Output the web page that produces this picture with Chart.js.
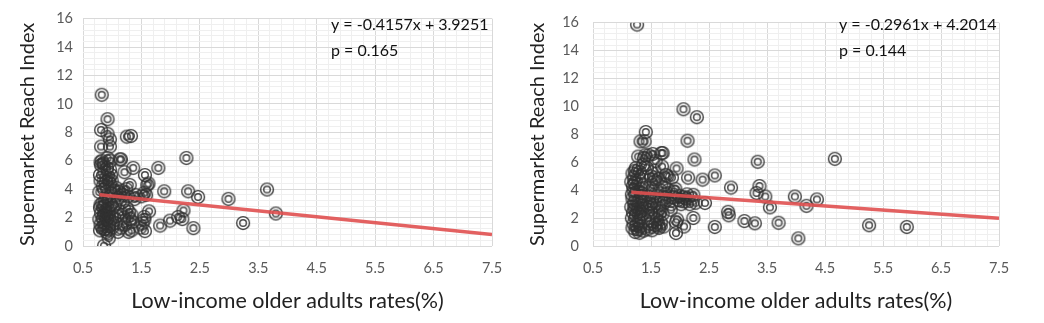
<!DOCTYPE html>
<html>
<head>
<meta charset="utf-8">
<script src="https://cdn.jsdelivr.net/npm/chart.js@4/dist/chart.umd.min.js"></script>
<style>
  html, body { margin: 0; padding: 0; background: #fff; }
  .panel { position: absolute; top: 0; height: 323px; }
  #leftBox { left: 0; width: 520px; }
  #rightBox { left: 510px; width: 534px; }
</style>
</head>
<body>
<div class="panel" id="leftBox"><canvas id="leftChart" width="520" height="323"></canvas></div>
<div class="panel" id="rightBox"><canvas id="rightChart" width="534" height="323"></canvas></div>
<script>
// left panel: low-income older adult rate vs supermarket reach index
const leftX = [
  0.79, 0.80, 0.78, 0.81, 0.79, 0.80, 0.78, 0.80, 0.79, 0.81, 0.80, 0.82, 0.81, 0.81, 0.82, 0.83, 0.84, 0.83, 0.85, 0.84,
  0.86, 0.87, 0.88, 0.86, 0.89, 0.87, 0.88, 0.90, 0.86, 0.89, 0.90, 0.87, 0.91, 0.92, 0.92, 0.92, 0.90, 0.91, 0.89, 0.93,
  0.94, 0.93, 0.95, 0.96, 0.94, 0.97, 0.95, 0.98, 0.96, 0.95, 0.98, 0.96, 0.97, 0.96, 0.96, 0.99, 1.00, 1.01, 1.02, 1.00,
  1.06, 1.08, 1.05, 1.10, 1.12, 1.07, 1.15, 1.13, 1.15, 1.14, 1.18, 1.16, 1.20, 1.21, 1.19, 1.10,
  1.25, 1.32, 1.36, 1.24, 1.30, 1.27, 1.33, 1.30, 1.28, 1.33, 1.35, 1.25, 1.38, 1.40, 1.22, 1.29,
  1.48, 1.56, 1.55, 1.55, 1.63, 1.56, 1.62, 1.60, 1.58, 1.55, 1.50, 1.52,
  1.79, 1.89, 1.82, 1.99, 2.13, 2.20, 2.22, 2.27, 2.30, 2.39, 2.47, 2.99, 3.24, 3.65, 3.80
];
const leftY = [
  1.1, 1.5, 1.9, 2.3, 2.7, 2.9, 3.8, 4.6, 5.0, 5.7, 5.9, 6.0, 7.0, 8.17, 10.65, 1.3, 2.0, 3.0, 5.8, 4.2,
  0.02, 1.2, 1.6, 2.2, 2.5, 2.8, 3.2, 3.5, 4.0, 4.5, 4.8, 5.2, 5.5, 6.2, 8.93, 7.9, 1.0, 1.9, 2.1, 2.6,
  0.55, 0.9, 1.4, 1.8, 2.3, 2.9, 3.3, 3.7, 4.4, 4.7, 5.0, 5.4, 6.0, 7.0, 7.5, 4.6, 2.0, 2.7, 3.9, 1.3,
  1.6, 2.1, 2.9, 3.4, 3.8, 4.1, 6.1, 6.1, 1.3, 2.4, 3.1, 3.9, 2.0, 5.2, 3.6, 1.0,
  7.7, 7.75, 5.5, 4.0, 4.3, 3.5, 2.2, 1.9, 1.0, 1.1, 1.7, 2.7, 3.3, 3.6, 1.5, 2.4,
  1.3, 1.05, 1.85, 2.05, 2.44, 5.0, 4.4, 4.3, 3.6, 3.75, 3.5, 1.6,
  5.5, 3.85, 1.44, 1.79, 2.05, 1.9, 2.5, 6.2, 3.85, 1.26, 3.45, 3.32, 1.62, 3.98, 2.29
];
const leftSlope = -0.4157;
const leftIntercept = 3.9251;
const leftP = "0.165";

// right panel
const rightX = [
  1.18, 1.20, 1.17, 1.19, 1.16, 1.21, 1.18, 1.17, 1.20, 1.19, 1.16, 1.21, 1.18, 1.24, 1.22, 1.23, 1.25, 1.24, 1.22, 1.23, 1.25, 1.22, 1.26, 1.28, 1.27,
  1.30, 1.32, 1.29, 1.33, 1.31, 1.34, 1.30, 1.35, 1.32, 1.29, 1.34, 1.31, 1.36, 1.32, 1.39, 1.41, 1.38, 1.37, 1.36, 1.39, 1.38, 1.40, 1.33, 1.28,
  1.44, 1.48, 1.45, 1.50, 1.46, 1.52, 1.47, 1.53, 1.49, 1.55, 1.50, 1.56, 1.53, 1.58, 1.52, 1.57, 1.59, 1.55, 1.60, 1.58, 1.43, 1.46, 1.48, 1.60,
  1.64, 1.67, 1.70, 1.65, 1.72, 1.68, 1.75, 1.66, 1.73, 1.69, 1.68, 1.70, 1.76, 1.78, 1.63, 1.72, 1.66, 1.78, 1.63, 1.80,
  1.85, 1.88, 1.90, 1.94, 1.93, 1.95, 1.93, 1.97, 1.92, 1.99, 1.86, 1.84,
  2.02, 2.05, 2.08, 2.07, 2.06, 2.13, 2.14, 2.12, 2.17, 2.20, 2.23, 2.23, 2.25, 2.29, 2.27, 2.10,
  2.39, 2.43, 2.60, 2.60, 2.83, 2.84, 2.88, 3.11, 3.29, 3.32, 3.34, 3.37, 3.47, 3.55, 3.70, 3.98, 4.04, 4.18, 4.36, 4.67, 5.26, 5.91
];
const rightY = [
  1.3, 1.6, 2.0, 2.4, 2.8, 3.1, 3.4, 3.7, 4.0, 4.3, 4.6, 4.9, 5.2, 5.6, 5.4, 1.0, 1.5, 2.2, 2.6, 3.0, 3.9, 4.5, 15.87, 6.41, 1.2,
  0.95, 1.4, 1.8, 2.1, 2.5, 2.9, 3.3, 3.6, 4.1, 4.7, 5.0, 5.3, 5.8, 7.5, 7.5, 8.17, 6.3, 1.1, 2.3, 3.1, 4.4, 6.5, 3.8, 2.7,
  1.2, 1.6, 2.0, 2.4, 2.8, 3.2, 3.5, 3.9, 4.2, 4.6, 5.0, 5.4, 6.6, 6.1, 1.13, 1.5, 2.2, 2.9, 3.6, 4.9, 5.6, 6.5, 3.0, 1.9,
  1.3, 1.7, 2.3, 2.7, 3.1, 3.4, 3.7, 4.0, 4.4, 5.7, 6.66, 6.66, 5.1, 5.0, 1.4, 1.4, 2.4, 3.3, 4.8, 4.0,
  3.0, 3.5, 3.9, 5.56, 1.7, 1.9, 0.93, 3.3, 4.1, 3.6, 4.9, 2.6,
  3.0, 3.5, 3.2, 1.4, 9.8, 7.55, 4.9, 3.7, 3.0, 3.4, 3.67, 2.01, 6.2, 9.23, 3.1, 3.4,
  4.76, 3.09, 5.06, 1.37, 2.45, 2.2, 4.19, 1.79, 1.63, 3.8, 6.04, 4.3, 3.55, 2.77, 1.67, 3.55, 0.55, 2.88, 3.34, 6.25, 1.49, 1.37
];
const rightSlope = -0.2961;
const rightIntercept = 4.2014;
const rightP = "0.144";

const xMin = 0.5, xMax = 7.5;
const yMin = 0, yMax = 16;

const FONT = "Lato, 'Open Sans', sans-serif";

// ring-in-ring marker
function makeMarker() {
  const c = document.createElement('canvas');
  c.width = 16; c.height = 16;
  const g = c.getContext('2d');
  g.strokeStyle = 'rgba(50,50,50,0.9)';
  g.lineWidth = 1.45;
  g.beginPath(); g.arc(8, 8, 6.4, 0, Math.PI * 2); g.stroke();
  g.beginPath(); g.arc(8, 8, 3.3, 0, Math.PI * 2); g.stroke();
  return c;
}
const marker = makeMarker();

// regression equation + p value in the upper right
const equationLabel = {
  id: 'equationLabel',
  afterDraw(chart, args, opts) {
    const ctx = chart.ctx;
    ctx.save();
    ctx.fillStyle = '#111';
    ctx.font = '16px ' + FONT;
    ctx.textBaseline = 'middle';
    ctx.textAlign = 'left';
    ctx.fillText(opts.line1, opts.x, 25);
    ctx.fillText(opts.line2, opts.x, 51);
    ctx.restore();
  }
};

function fmtEq(m, b) {
  return 'y = ' + m.toFixed(4) + 'x + ' + b.toFixed(4);
}

function makeChart(id, xs, ys, slope, intercept, p, yAxisWidth, padRight, textX, yTickPad) {
  const points = xs.map((x, i) => ({ x: x, y: ys[i] }));
  const x0 = Math.min(...xs);
  const trend = [
    { x: x0, y: slope * x0 + intercept },
    { x: xMax, y: slope * xMax + intercept }
  ];
  const isMajorX = v => {
    const r = ((v - 0.5) % 1 + 1) % 1;
    return r < 1e-6 || 1 - r < 1e-6;
  };
  const isMajorY = v => Math.abs(v / 2 - Math.round(v / 2)) < 1e-6;

  return new Chart(document.getElementById(id), {
    type: 'scatter',
    data: {
      datasets: [
        {
          type: 'line',
          data: trend,
          borderColor: 'rgba(224,80,80,0.9)',
          borderWidth: 3.5,
          pointRadius: 0,
          fill: false,
          order: 0
        },
        {
          data: points,
          pointStyle: marker,
          pointRadius: 7,
          order: 1
        }
      ]
    },
    options: {
      responsive: false,
      animation: false,
      devicePixelRatio: 1,
      layout: { padding: { left: 0, right: padRight, top: 13, bottom: 0 } },
      plugins: {
        legend: { display: false },
        tooltip: { enabled: false },
        equationLabel: { line1: fmtEq(slope, intercept), line2: 'p = ' + p, x: textX }
      },
      scales: {
        x: {
          type: 'linear',
          min: xMin, max: xMax,
          afterBuildTicks: s => {
            const t = [];
            for (let i = 0; i <= 35; i++) t.push({ value: Math.round((xMin + i * 0.2) * 10) / 10 });
            s.ticks = t;
          },
          afterFit: s => { s.height = 77; },
          grid: {
            drawTicks: false,
            color: c => isMajorX(c.tick.value) ? '#d9d9d9' : '#efefef',
            lineWidth: 1
          },
          border: { display: false },
          ticks: {
            autoSkip: false,
            maxRotation: 0,
            padding: 14,
            color: '#595959',
            font: { family: FONT, size: 14.5 },
            callback: v => isMajorX(v) ? v.toFixed(1) : ''
          },
          title: {
            display: true,
            text: 'Low-income older adults rates(%)',
            color: '#222',
            font: { family: FONT, size: 21.5 },
            padding: { top: 0, bottom: 9 }
          }
        },
        y: {
          type: 'linear',
          min: yMin, max: yMax,
          afterBuildTicks: s => {
            const t = [];
            for (let i = 0; i <= 40; i++) t.push({ value: Math.round(i * 0.4 * 10) / 10 });
            s.ticks = t;
          },
          afterFit: s => { s.width = yAxisWidth; },
          grid: {
            drawTicks: false,
            color: c => isMajorY(c.tick.value) ? '#d9d9d9' : '#efefef',
            lineWidth: 1
          },
          border: { display: false },
          ticks: {
            autoSkip: false,
            padding: yTickPad,
            color: '#595959',
            font: { family: FONT, size: 14.5 },
            callback: v => isMajorY(v) ? String(Math.round(v)) : ''
          },
          title: {
            display: true,
            align: 'start',
            text: 'Supermarket Reach Index',
            color: '#222',
            font: { family: FONT, size: 20 },
            padding: { top: 16, bottom: 0 }
          }
        }
      }
    },
    plugins: [equationLabel]
  });
}

makeChart('leftChart', leftX, leftY, leftSlope, leftIntercept, leftP, 83, 28, 331, 10);
makeChart('rightChart', rightX, rightY, rightSlope, rightIntercept, rightP, 83, 45, 329, 14);
</script>
</body>
</html>
